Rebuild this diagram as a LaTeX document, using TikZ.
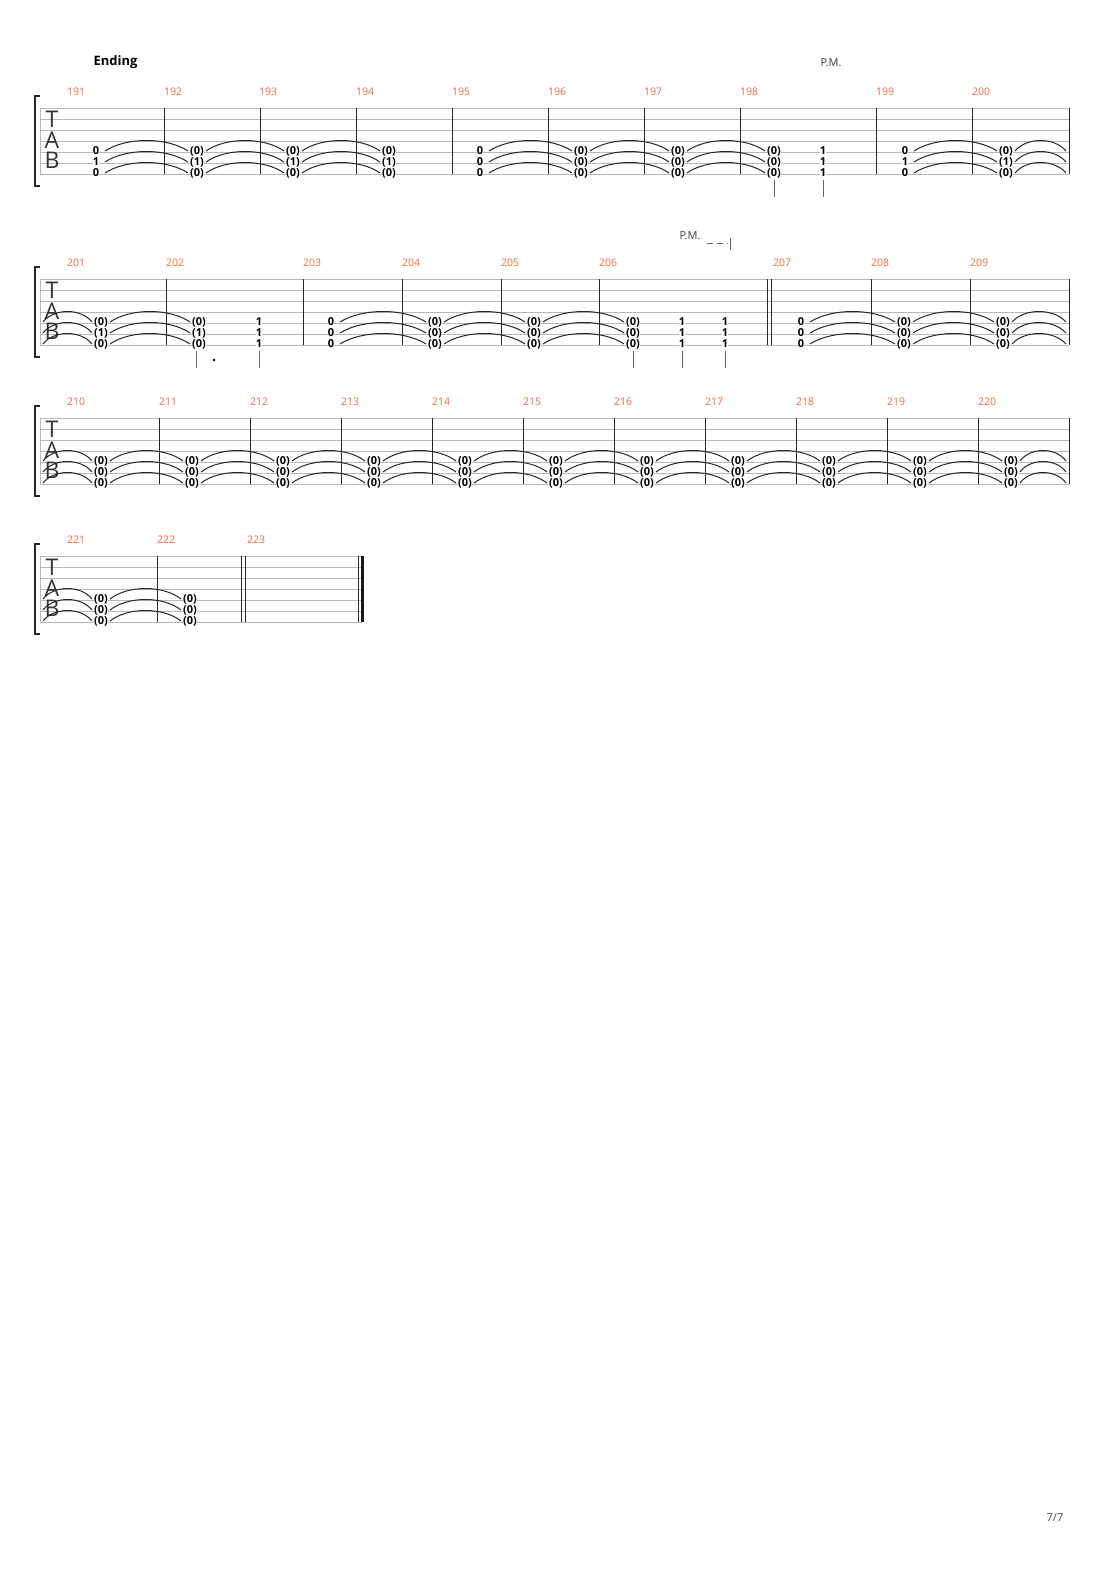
\documentclass[tikz,border=0pt]{standalone}
\usepackage{fontspec}
\setmainfont{Open Sans}
\definecolor{barnum}{HTML}{F26A3A}
\begin{document}
\begin{tikzpicture}[x=1pt,y=-1pt,
  staff/.style={draw=black!28,line width=0.8pt},
  barln/.style={draw=black!85,line width=0.9pt},
  fret/.style={font=\fontsize{11}{11}\selectfont\bfseries,inner sep=0pt,fill=white},
  num/.style={font=\fontsize{10.5}{11}\selectfont,text=barnum,anchor=west,inner sep=0pt},
  tie/.style={draw=black!85,line width=1pt},
  stem/.style={draw=black!60,line width=0.8pt},
  tabl/.style={font=\fontsize{23}{23}\selectfont,inner sep=0pt,text=black!80}]
\useasboundingbox (0,0) rectangle (1110,1570);
\newcommand\tabsys[2]{%
  \foreach \i in {0,...,6} \draw[staff] (40,#1+11*\i) -- (#2,#1+11*\i);
  \draw[line width=1.6pt,black!85] (40,#1-12) -- (35,#1-12) -- (35,#1+78) -- (40,#1+78);
  \draw[staff] (40,#1) -- (40,#1+66);
  \node[tabl] at (52,#1+11) {T};
  \node[tabl] at (52,#1+32) {A};
  \node[tabl] at (52,#1+52) {B};
}
\newcommand\tiesys[2]{%
  \foreach \ta/\tb in {#2} \foreach \s in {44,55,66}
    \draw[tie] (\ta+9,#1+\s-1) .. controls ({\ta+(\tb-\ta)*0.3},#1+\s-15) and ({\tb-(\tb-\ta)*0.3},#1+\s-15) .. (\tb-9,#1+\s-1);
}
\newcommand\notes[2]{%
  \foreach \x/\p/\q/\r in {#2} {
    \node[fret] at (\x,#1+43) {\p};
    \node[fret] at (\x,#1+54) {\q};
    \node[fret] at (\x,#1+65) {\r};}
}
\newcommand\bars[3]{\foreach \bx in {#3} \draw[barln] (\bx,#1) -- (\bx,#2);}
\newcommand\nums[2]{\foreach \nn/\bx in {#2} \node[num] at (\bx,#1) {\nn};}
% ===== system 1
\node[font=\fontsize{13}{13}\selectfont\bfseries,anchor=west] at (90,62) {Ending};
\node[font=\fontsize{11}{11}\selectfont,text=black!75] at (831,63) {P.M.};
\tabsys{108}{1069}
\bars{108}{174}{164,260,356,452,548,644,740,876,972,1069}
\nums{92}{191/67,192/164,193/259,194/356,195/452,196/548,197/644,198/740,199/876,200/972}
\tiesys{108}{96/197,197/293,293/389,480/581,581/678,678/774,905/1006,1006/1075}
\notes{108}{96/0/1/0,197/(0)/(1)/(0),293/(0)/(1)/(0),389/(0)/(1)/(0),480/0/0/0,581/(0)/(0)/(0),678/(0)/(0)/(0),774/(0)/(0)/(0),823/1/1/1,905/0/1/0,1006/(0)/(1)/(0)}
\foreach \x in {774,823} \draw[stem] (\x,180) -- (\x,197);
% ===== system 2
\node[font=\fontsize{11}{11}\selectfont,text=black!75] at (690,236) {P.M.};
\draw[black!60,line width=1pt,dash pattern=on 6pt off 4pt] (707,244) -- (728,244);
\draw[black!60,line width=1pt] (730,238) -- (730,250);
\tabsys{279}{1069}
\bars{279}{345}{166,303,402,501,599,767,771,871,970,1069}
\nums{263}{201/67,202/166,203/303,204/402,205/501,206/599,207/773,208/871,209/970}
\tiesys{279}{34/101,101/199,331/435,435/534,534/633,801/904,904/1003,1003/1075}
\notes{279}{101/(0)/(1)/(0),199/(0)/(1)/(0),259/1/1/1,331/0/0/0,435/(0)/(0)/(0),534/(0)/(0)/(0),633/(0)/(0)/(0),682/1/1/1,725/1/1/1,801/0/0/0,904/(0)/(0)/(0),1003/(0)/(0)/(0)}
\foreach \x in {196,259,633,682,725} \draw[stem] (\x,351) -- (\x,368);
\fill (214,360) circle (1.4);
% ===== system 3
\tabsys{418}{1069}
\bars{418}{484}{159,250,341,432,523,614,705,796,887,978,1069}
\nums{402}{210/67,211/159,212/250,213/341,214/432,215/523,216/614,217/705,218/796,219/887,220/978}
\tiesys{418}{34/101,101/192,192/283,283/374,374/465,465/556,556/647,647/738,738/829,829/920,920/1011,1011/1075}
\notes{418}{101/(0)/(0)/(0),192/(0)/(0)/(0),283/(0)/(0)/(0),374/(0)/(0)/(0),465/(0)/(0)/(0),556/(0)/(0)/(0),647/(0)/(0)/(0),738/(0)/(0)/(0),829/(0)/(0)/(0),920/(0)/(0)/(0),1011/(0)/(0)/(0)}
% ===== system 4
\tabsys{556}{362}
\bars{556}{622}{157,241,245,358}
\draw[black!90,line width=2.6pt] (362.5,556) -- (362.5,622);
\nums{540}{221/67,222/157,223/247}
\tiesys{556}{34/101,101/190}
\notes{556}{101/(0)/(0)/(0),190/(0)/(0)/(0)}
\node[font=\fontsize{11}{11}\selectfont,text=black!70] at (1055,1518) {7/7};
\end{tikzpicture}
\end{document}
